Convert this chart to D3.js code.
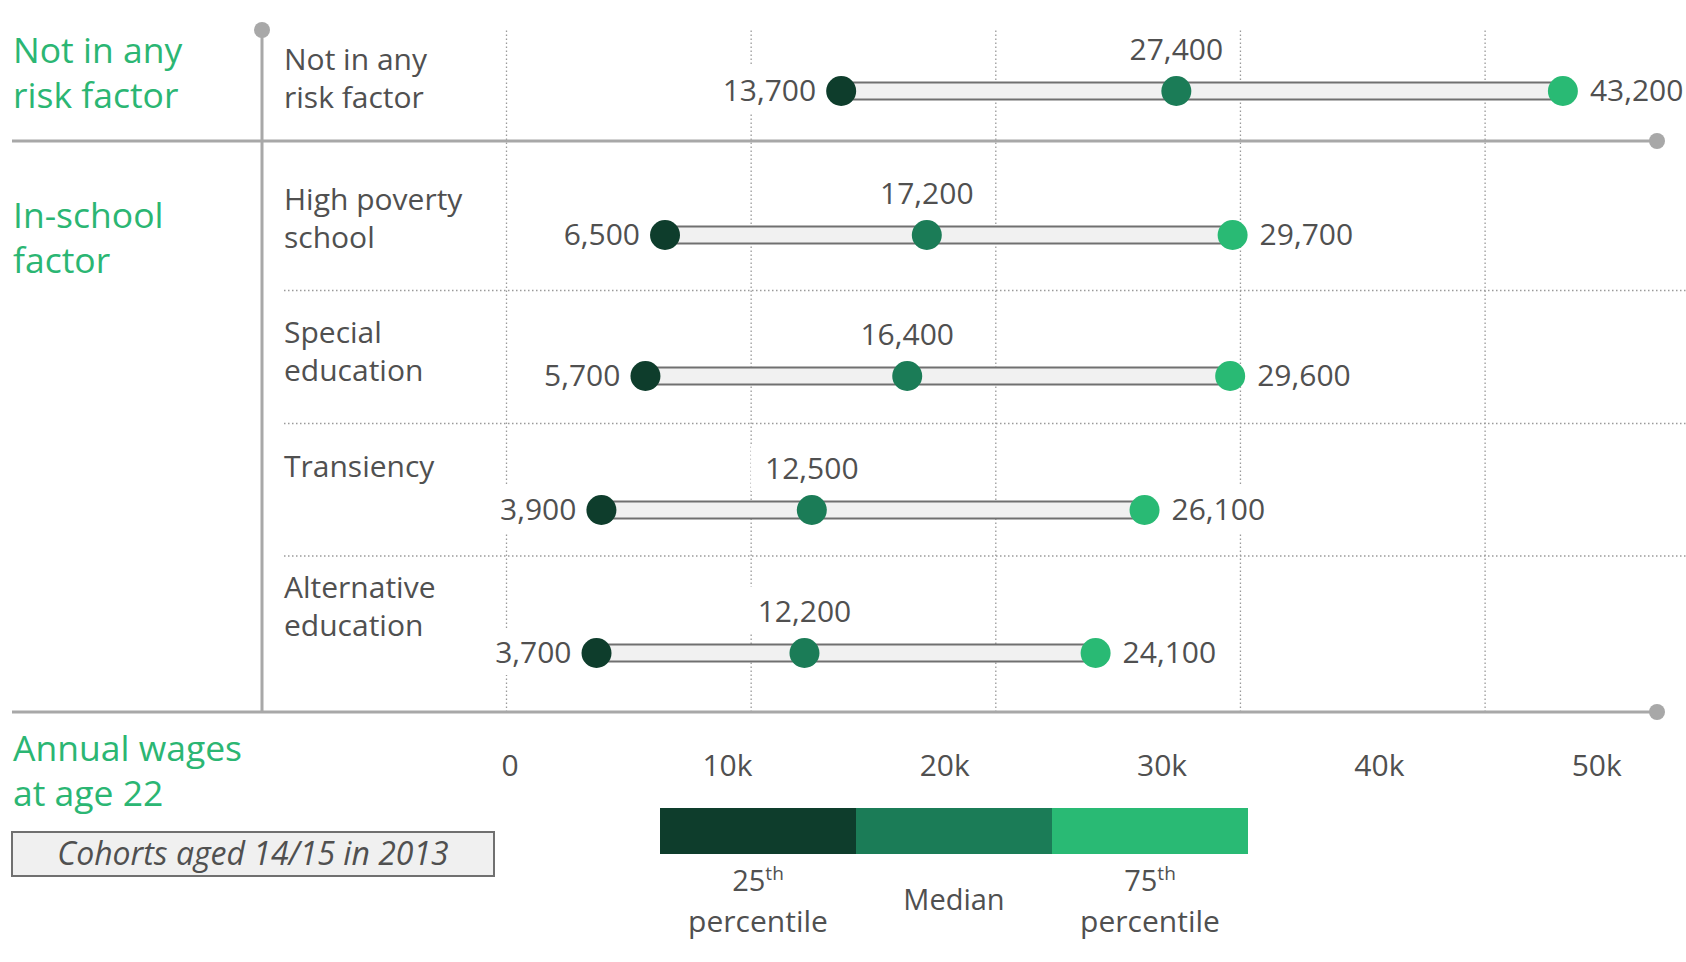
<!DOCTYPE html>
<html>
<head>
<meta charset="utf-8">
<script src="https://cdn.jsdelivr.net/npm/d3@7"></script>
<style>
  body { margin: 0; background: #fff; }
  svg text { font-family: "Open Sans", sans-serif; }
</style>
</head>
<body>
<div id="chart"></div>
<script>
// Chart values
var categories = ["Not in any risk factor", "High poverty school", "Special education", "Transiency", "Alternative education"];
var categoryLines = [["Not in any", "risk factor"], ["High poverty", "school"], ["Special", "education"], ["Transiency"], ["Alternative", "education"]];
var p25 = [13700, 6500, 5700, 3900, 3700];
var median = [27400, 17200, 16400, 12500, 12200];
var p75 = [43200, 29700, 29600, 26100, 24100];
var gridTicks = [0, 10000, 20000, 30000, 40000];
var tickValues = [0, 10000, 20000, 30000, 40000, 50000];
var groupLabels = [["Not in any", "risk factor"], ["In-school", "factor"]];
var axisTitle = ["Annual wages", "at age 22"];
var legendKeys = ["25th", "Median", "75th"];
var note = "Cohorts aged 14/15 in 2013";

// Set up the chart
var svgWidth = 1686;
var svgHeight = 962;

var colors = ["#0e3d2c", "#1b7c57", "#29ba74"];
var green = "#2bb673";
var textGray = "#505050";
var lineGray = "#a8a8a8";

// row layout (rows are not evenly spaced in the original)
var rowY = [91, 235, 376, 510, 653];
var labelDy = [-21, -25, -33, -33, -55];
var separators = [290.5, 423.5, 556];
var groupY = [63, 228];
var plotTop = 30, plotBottom = 712;

var svg = d3.select("#chart")
  .append("svg")
  .attr("width", svgWidth)
  .attr("height", svgHeight);

// scales
var xScale = d3.scaleLinear().domain([0, 40000]).range([506, 1484.6]);
var tickScale = d3.scaleLinear().domain([0, 50000]).range([509.6, 1596.2]);
var yScale = d3.scaleOrdinal().domain(categories).range(rowY);

var rows = categories.map(function(c, i) {
  return { cat: c, lines: categoryLines[i], lo: p25[i], mid: median[i], hi: p75[i], dy: labelDy[i] };
});

// dotted gridlines
var grid = svg.append("g")
  .attr("transform", `translate(0, ${plotBottom})`)
  .call(d3.axisBottom(xScale).tickValues(gridTicks).tickSize(-(plotBottom - plotTop)).tickFormat(""));
grid.select(".domain").remove();
grid.selectAll("line")
  .attr("stroke", "#9a9a9a")
  .attr("stroke-width", 1.3)
  .attr("stroke-dasharray", "1.5,2.5");

svg.append("g").selectAll("line")
  .data(separators)
  .enter()
  .append("line")
  .attr("x1", 284).attr("x2", svgWidth)
  .attr("y1", d => d).attr("y2", d => d)
  .attr("stroke", "#9a9a9a")
  .attr("stroke-width", 1.3)
  .attr("stroke-dasharray", "1.5,2.5");

// layers
var maskLayer = svg.append("g");
var frameLayer = svg.append("g");
var barLayer = svg.append("g");
var labelLayer = svg.append("g");

// solid frame lines
[[12, 141, 1657, 141], [12, plotBottom, 1657, plotBottom], [262, plotTop, 262, plotBottom]].forEach(function(l) {
  frameLayer.append("line")
    .attr("x1", l[0]).attr("y1", l[1]).attr("x2", l[2]).attr("y2", l[3])
    .attr("stroke", lineGray).attr("stroke-width", 3);
});
[[1657, 141], [1657, plotBottom], [262, plotTop]].forEach(function(p) {
  frameLayer.append("circle").attr("cx", p[0]).attr("cy", p[1]).attr("r", 8).attr("fill", lineGray);
});

// bars
barLayer.selectAll("rect")
  .data(rows)
  .enter()
  .append("rect")
  .attr("x", d => xScale(d.lo))
  .attr("width", d => xScale(d.hi) - xScale(d.lo))
  .attr("y", d => yScale(d.cat) - 8.5)
  .attr("height", 17)
  .attr("fill", "#f1f1f1")
  .attr("stroke", "#707070")
  .attr("stroke-width", 2);

// value labels
var fmt = d3.format(",");
var valueLabels = [];
rows.forEach(function(d) {
  var y = yScale(d.cat);
  valueLabels.push(labelLayer.append("text").text(fmt(d.lo))
    .attr("x", xScale(d.lo) - 25).attr("y", y + 10).attr("text-anchor", "end"));
  valueLabels.push(labelLayer.append("text").text(fmt(d.hi))
    .attr("x", xScale(d.hi) + 27).attr("y", y + 10).attr("text-anchor", "start"));
  valueLabels.push(labelLayer.append("text").text(fmt(d.mid))
    .attr("x", xScale(d.mid)).attr("y", y - 31).attr("text-anchor", "middle"));
});
valueLabels.forEach(function(t) {
  t.attr("font-size", 30).attr("fill", textGray);
  var b = t.node().getBBox();
  maskLayer.append("rect")
    .attr("x", b.x - 14).attr("y", b.y - 3)
    .attr("width", b.width + 28).attr("height", b.height + 6)
    .attr("fill", "#fff");
});

// dots
var keys = ["lo", "mid", "hi"];
keys.forEach(function(k, i) {
  barLayer.append("g").selectAll("circle")
    .data(rows)
    .enter()
    .append("circle")
    .attr("cx", d => xScale(d[k]))
    .attr("cy", d => yScale(d.cat))
    .attr("r", 15)
    .attr("fill", colors[i]);
});

// category labels
labelLayer.append("g").selectAll("text")
  .data(rows)
  .enter()
  .append("text")
  .attr("x", 284)
  .attr("y", d => yScale(d.cat) + d.dy)
  .attr("font-size", 30)
  .attr("fill", textGray)
  .selectAll("tspan")
  .data(d => d.lines)
  .enter()
  .append("tspan")
  .attr("x", 284)
  .attr("dy", (d, i) => i === 0 ? 0 : 38)
  .text(d => d);

// green group labels
function greenLabel(lines, y) {
  var t = labelLayer.append("text")
    .attr("x", 13).attr("y", y)
    .attr("font-size", 35.5)
    .attr("fill", green);
  t.selectAll("tspan")
    .data(lines)
    .enter()
    .append("tspan")
    .attr("x", 13)
    .attr("dy", (d, i) => i === 0 ? 0 : 45)
    .text(d => d);
}
groupLabels.forEach(function(g, i) { greenLabel(g, groupY[i]); });
greenLabel(axisTitle, 761);

// tick labels
var ticks = svg.append("g")
  .attr("transform", "translate(0, 755)")
  .call(d3.axisBottom(tickScale).tickValues(tickValues).tickSize(0).tickPadding(0)
    .tickFormat(d => d === 0 ? "0" : d / 1000 + "k"));
ticks.select(".domain").remove();
ticks.selectAll("text")
  .attr("font-size", 30)
  .attr("font-family", "Open Sans, sans-serif")
  .attr("fill", textGray);

// note box
svg.append("rect")
  .attr("x", 12).attr("y", 832)
  .attr("width", 482).attr("height", 44)
  .attr("fill", "#f0f0f0")
  .attr("stroke", "#707070")
  .attr("stroke-width", 2);
svg.append("text")
  .attr("x", 253).attr("y", 865)
  .attr("text-anchor", "middle")
  .attr("font-size", 32)
  .attr("font-style", "italic")
  .attr("fill", textGray)
  .text(note);

// legend
var legendX = d3.scaleBand().domain(legendKeys).range([660, 1248]);
var legendColor = d3.scaleOrdinal().domain(legendKeys).range(colors);
var legend = svg.append("g");
legend.selectAll("rect")
  .data(legendKeys)
  .enter()
  .append("rect")
  .attr("x", d => legendX(d))
  .attr("y", 808)
  .attr("width", legendX.bandwidth())
  .attr("height", 46)
  .attr("fill", d => legendColor(d));

legendKeys.forEach(function(k) {
  var cx = legendX(k) + legendX.bandwidth() / 2;
  if (k === "Median") {
    legend.append("text")
      .attr("x", cx).attr("y", 910)
      .attr("text-anchor", "middle")
      .attr("font-size", 29)
      .attr("fill", textGray)
      .text(k);
  } else {
    var t = legend.append("text")
      .attr("x", cx).attr("y", 891)
      .attr("text-anchor", "middle")
      .attr("font-size", 29)
      .attr("fill", textGray);
    t.append("tspan").text(k.slice(0, 2));
    t.append("tspan").text(k.slice(2)).attr("font-size", 19).attr("dy", -11);
    legend.append("text")
      .attr("x", cx).attr("y", 932)
      .attr("text-anchor", "middle")
      .attr("font-size", 30)
      .attr("fill", textGray)
      .text("percentile");
  }
});
</script>
</body>
</html>
